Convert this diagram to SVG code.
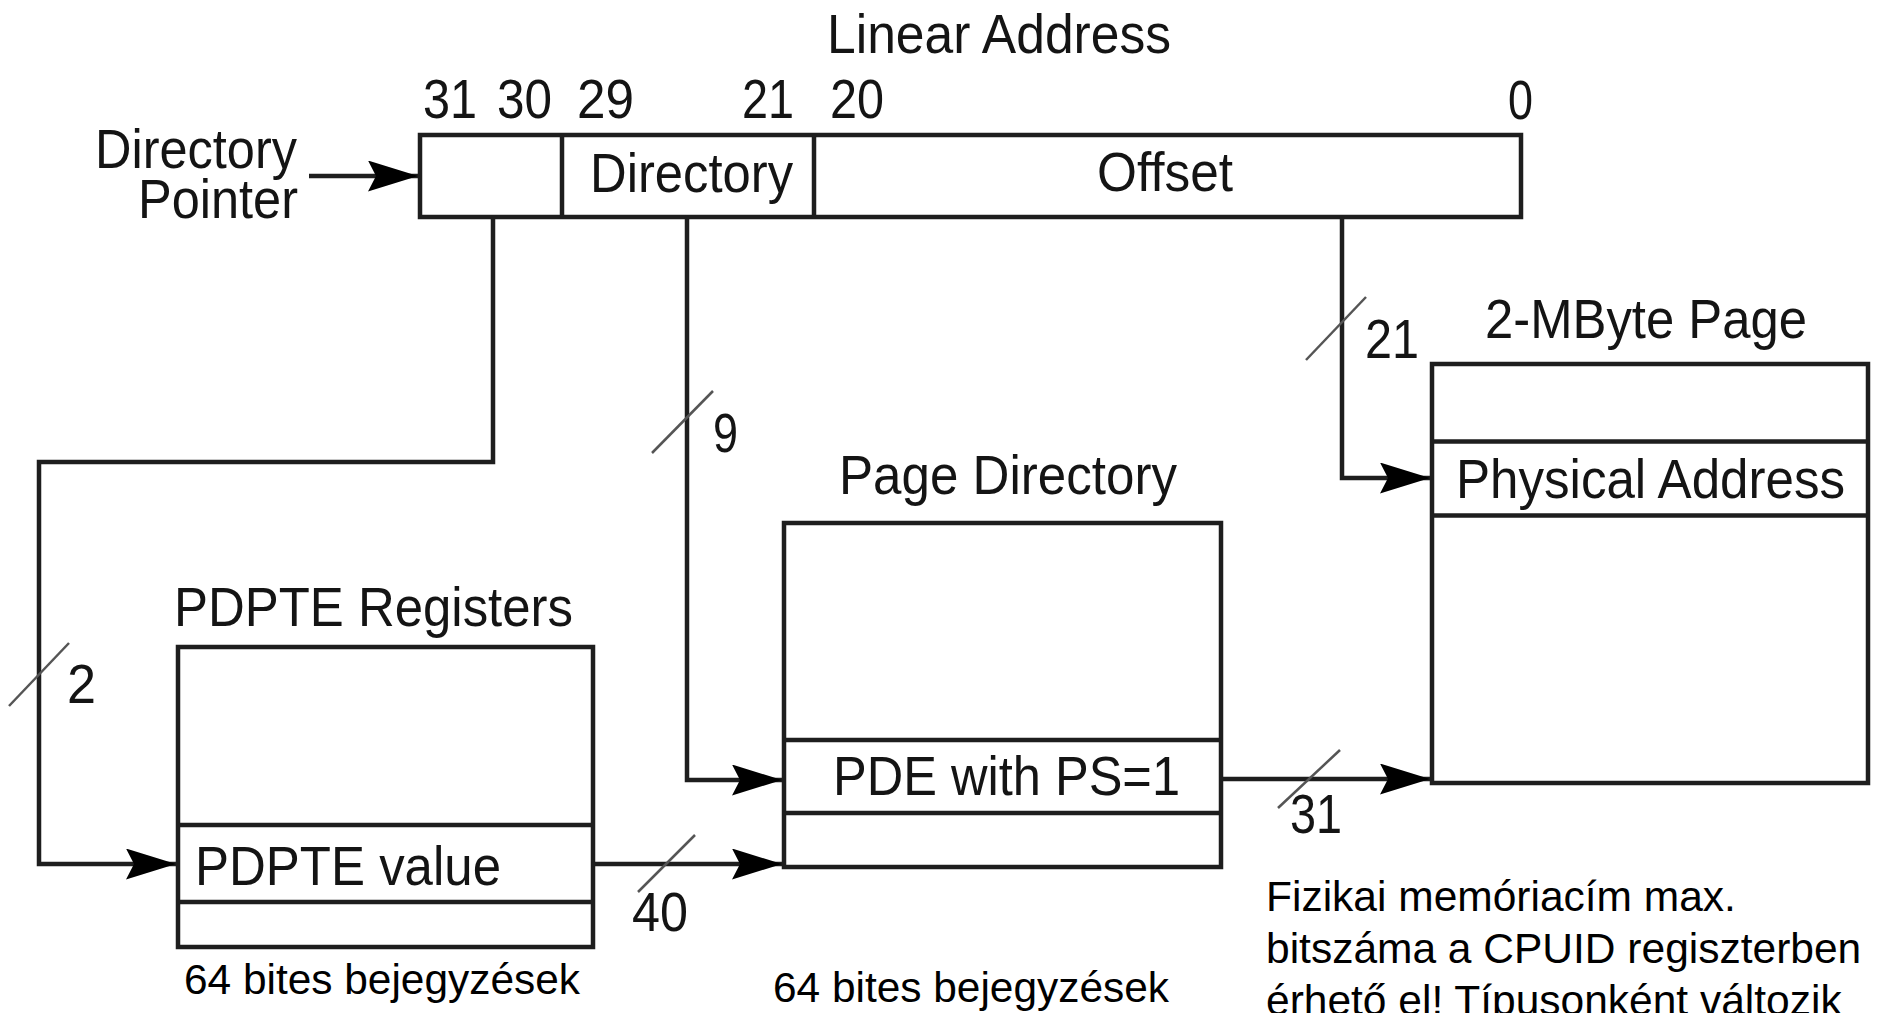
<svg xmlns="http://www.w3.org/2000/svg" width="1879" height="1013" viewBox="0 0 1879 1013">
<style>
.bg{fill:#fff}
.box{fill:#fff;stroke:#1e1e1e;stroke-width:4.5}
.row{stroke:#1e1e1e;stroke-width:4.5}
.lbl{font-family:"Liberation Sans",Arial,sans-serif;font-size:56px;fill:#141414}
.note{font-family:"Liberation Sans",Arial,sans-serif;font-size:42.5px;fill:#000}
.con{fill:none;stroke:#1e1e1e;stroke-width:4.5}
.slash{stroke:#555;stroke-width:2.5}
</style>
<defs>
<marker id="ah" viewBox="0 0 50 31" refX="50" refY="15.5" markerWidth="50" markerHeight="31" markerUnits="userSpaceOnUse" orient="auto">
<path d="M0,0 L50,15.5 L0,31 L8,15.5 Z" fill="#000"/>
</marker>
</defs>
<rect class="bg" x="0" y="0" width="1879" height="1013"/>

<g id="linear-address">
<text class="lbl" x="827" y="53" textLength="344" lengthAdjust="spacingAndGlyphs">Linear Address</text>
<text class="lbl" x="423" y="118" textLength="54" lengthAdjust="spacingAndGlyphs">31</text>
<text class="lbl" x="497" y="118" textLength="55" lengthAdjust="spacingAndGlyphs">30</text>
<text class="lbl" x="577" y="118" textLength="57" lengthAdjust="spacingAndGlyphs">29</text>
<text class="lbl" x="742" y="118" textLength="52" lengthAdjust="spacingAndGlyphs">21</text>
<text class="lbl" x="830" y="118" textLength="54" lengthAdjust="spacingAndGlyphs">20</text>
<text class="lbl" x="1508" y="119" textLength="25" lengthAdjust="spacingAndGlyphs">0</text>
<rect class="box" x="420" y="135" width="1101" height="82"/>
<line class="row" x1="562" y1="135" x2="562" y2="217"/>
<line class="row" x1="814" y1="135" x2="814" y2="217"/>
<text class="lbl" x="590" y="192" textLength="203" lengthAdjust="spacingAndGlyphs">Directory</text>
<text class="lbl" x="1097" y="191" textLength="136" lengthAdjust="spacingAndGlyphs">Offset</text>
</g>

<g id="directory-pointer">
<text class="lbl" x="95" y="168" textLength="202" lengthAdjust="spacingAndGlyphs">Directory</text>
<text class="lbl" x="138" y="218" textLength="160" lengthAdjust="spacingAndGlyphs">Pointer</text>
</g>

<g id="page-2mb">
<text class="lbl" x="1485" y="338" textLength="322" lengthAdjust="spacingAndGlyphs">2-MByte Page</text>
<rect class="box" x="1432" y="364" width="436" height="419"/>
<line class="row" x1="1432" y1="441.5" x2="1868" y2="441.5"/>
<line class="row" x1="1432" y1="515.5" x2="1868" y2="515.5"/>
<text class="lbl" x="1456" y="498" textLength="389" lengthAdjust="spacingAndGlyphs">Physical Address</text>
</g>

<g id="page-directory">
<text class="lbl" x="839" y="494" textLength="338" lengthAdjust="spacingAndGlyphs">Page Directory</text>
<rect class="box" x="784" y="523" width="437" height="344"/>
<line class="row" x1="784" y1="740" x2="1221" y2="740"/>
<line class="row" x1="784" y1="813" x2="1221" y2="813"/>
<text class="lbl" x="833" y="795" textLength="347" lengthAdjust="spacingAndGlyphs">PDE with PS=1</text>
<text class="note" x="773" y="1002" textLength="396" lengthAdjust="spacingAndGlyphs">64 bites bejegyzések</text>
</g>

<g id="pdpte-registers">
<text class="lbl" x="174" y="626" textLength="399" lengthAdjust="spacingAndGlyphs">PDPTE Registers</text>
<rect class="box" x="178" y="647" width="415" height="300"/>
<line class="row" x1="178" y1="825" x2="593" y2="825"/>
<line class="row" x1="178" y1="902" x2="593" y2="902"/>
<text class="lbl" x="195" y="885" textLength="306" lengthAdjust="spacingAndGlyphs">PDPTE value</text>
<text class="note" x="184" y="994" textLength="396" lengthAdjust="spacingAndGlyphs">64 bites bejegyzések</text>
</g>

<g id="note-cpuid">
<text class="note" x="1266" y="911">Fizikai memóriacím max.</text>
<text class="note" x="1266" y="963">bitszáma a CPUID regiszterben</text>
<text class="note" x="1266" y="1015">érhető el! Típusonként változik</text>
</g>

<g id="connectors">
<line class="con" x1="309" y1="176" x2="418" y2="176" marker-end="url(#ah)"/>
<path class="con" d="M493,217 V462 H39 V864 H176" marker-end="url(#ah)"/>
<path class="con" d="M687,217 V780 H782" marker-end="url(#ah)"/>
<path class="con" d="M1342,217 V478 H1430" marker-end="url(#ah)"/>
<line class="con" x1="593" y1="864" x2="782" y2="864" marker-end="url(#ah)"/>
<line class="con" x1="1221" y1="779" x2="1430" y2="779" marker-end="url(#ah)"/>
<line class="slash" x1="1306" y1="360" x2="1366" y2="297"/>
<line class="slash" x1="652" y1="453" x2="713" y2="391"/>
<line class="slash" x1="9" y1="706" x2="69" y2="643"/>
<line class="slash" x1="638" y1="892" x2="695" y2="835"/>
<line class="slash" x1="1278" y1="808" x2="1340" y2="750"/>
<text class="lbl" x="1365" y="358" textLength="54" lengthAdjust="spacingAndGlyphs">21</text>
<text class="lbl" x="713" y="452" textLength="25" lengthAdjust="spacingAndGlyphs">9</text>
<text class="lbl" x="67" y="703" textLength="29" lengthAdjust="spacingAndGlyphs">2</text>
<text class="lbl" x="632" y="931" textLength="56" lengthAdjust="spacingAndGlyphs">40</text>
<text class="lbl" x="1290" y="833" textLength="52" lengthAdjust="spacingAndGlyphs">31</text>
</g>
</svg>
